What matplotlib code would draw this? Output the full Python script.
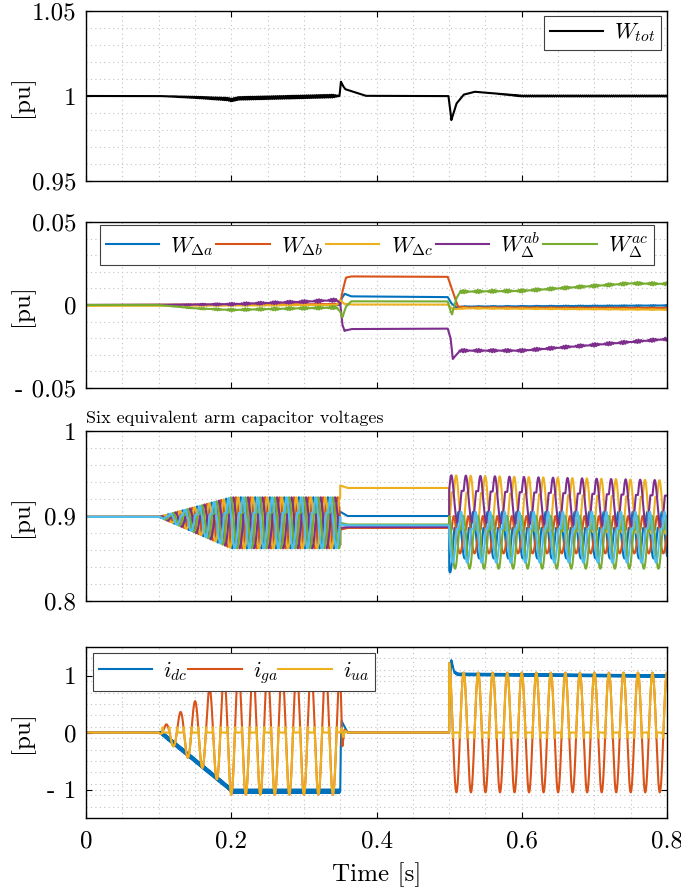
import numpy as np
import matplotlib.pyplot as plt

plt.rcParams['font.family'] = 'cmr10'
plt.rcParams['mathtext.fontset'] = 'cm'
plt.rcParams['axes.unicode_minus'] = False

# MATLAB default line colours
c_blue = '#0072BD'
c_orange = '#D95319'
c_yellow = '#EDB120'
c_purple = '#7E2F8E'
c_green = '#77AC30'
c_cyan = '#4DBEEE'

f_grid = 50.0  # Hz
dt = 2e-5
t = np.arange(0, 0.8 + dt, dt)

# ---------------- panel 1: total energy
wtot_t = [0, 0.10, 0.15, 0.195, 0.20, 0.21, 0.28, 0.345, 0.349, 0.351, 0.354, 0.357,
          0.385, 0.499, 0.5015, 0.503, 0.51, 0.52, 0.535, 0.55, 0.60, 0.80]
wtot_v = [1.0, 1.0, 0.9992, 0.9982, 0.9976, 0.9986, 0.9993, 1.0000, 1.0000, 1.0084, 1.0058,
          1.0040, 1.0001, 1.0, 0.992, 0.9858, 0.9955, 1.0008, 1.0025, 1.0020, 1.0000, 1.0000]
wtot_rip_t = [0, 0.10, 0.20, 0.34, 0.35, 0.55, 0.60, 0.80]
wtot_rip_a = [0, 0, 0.0008, 0.0008, 0, 0, 0.0003, 0.0003]

# ---------------- panel 2: energy differences
wda_t = [0, 0.35, 0.352, 0.356, 0.365, 0.498, 0.503, 0.51, 0.52, 0.80]
wda_v = [0, 0, 0.004, 0.0068, 0.0052, 0.0048, 0.001, -0.0015, -0.001, -0.0003]
wdb_t = [0, 0.35, 0.353, 0.358, 0.365, 0.498, 0.505, 0.512, 0.52, 0.80]
wdb_v = [0, 0.0005, 0.008, 0.0165, 0.0172, 0.0170, 0.008, -0.001, -0.0015, -0.0018]
wdc_t = [0, 0.10, 0.345, 0.35, 0.355, 0.365, 0.498, 0.503, 0.51, 0.52, 0.80]
wdc_v = [-0.0005, -0.0005, 0.0, 0.003, 0.0008, 0.0003, 0.0003, -0.002, -0.0025, -0.002, -0.0028]
wab_t = [0, 0.10, 0.20, 0.30, 0.345, 0.35, 0.353, 0.356, 0.365, 0.498, 0.502, 0.505,
         0.515, 0.60, 0.80]
wab_v = [0, 0, 0.0005, 0.002, 0.003, 0.001, -0.012, -0.0155, -0.0145, -0.0142, -0.02,
         -0.0325, -0.0275, -0.0275, -0.0205]
wac_t = [0, 0.10, 0.15, 0.20, 0.30, 0.345, 0.35, 0.353, 0.358, 0.365, 0.498, 0.502,
         0.504, 0.51, 0.515, 0.60, 0.75, 0.80]
wac_v = [0, 0, -0.002, -0.003, -0.002, -0.0015, -0.004, -0.0075, -0.001, 0.0022, 0.0022,
         -0.004, -0.0055, 0.004, 0.008, 0.0085, 0.013, 0.0127]
w2_rip_t = [0, 0.10, 0.20, 0.345, 0.36, 0.50, 0.515, 0.80]
w2_rip_a = [0, 0, 0.0008, 0.001, 0, 0, 0.001, 0.001]

# ---------------- panel 3: six arm capacitor voltages
cap_colors = [c_blue, c_orange, c_yellow, c_purple, c_green, c_cyan]
cap_phase = [0.65, 0.98, 0.82, 0.15, 0.32, 0.48]
cap_v0 = 0.899
capA_t = [0.10, 0.20, 0.35]
capA_plateau = [0.899, 0.904, 0.904]
capA_up = [0.0, 0.018, 0.018]
capA_down = [0.0, 0.042, 0.042]
capB_t = [0.35, 0.36, 0.50]
capB_start = [0.905, 0.884, 0.936, 0.886, 0.892, 0.890]
capB_end = [0.900, 0.886, 0.933, 0.887, 0.890, 0.889]
capC_plateau_start = [0.886, 0.884, 0.928, 0.930, 0.884, 0.885]
capC_plateau_end = [0.886, 0.884, 0.922, 0.924, 0.884, 0.885]
capC_up = [0.019, 0.016, 0.020, 0.018, 0.016, 0.020]
capC_down_first = [0.054, 0.028, 0.043, 0.037, 0.046, 0.040]
capC_down = [0.036, 0.028, 0.043, 0.037, 0.046, 0.040]

# ---------------- panel 4: currents
idc_t = [0, 0.10, 0.103, 0.202, 0.35, 0.3505, 0.352, 0.356, 0.36, 0.50, 0.5005, 0.503,
         0.507, 0.512, 0.80]
idc_v = [0, 0, 0, -1.03, -1.03, -0.4, 0.2, 0.1, 0, 0, 0.8, 1.27, 1.06, 1.02, 0.99]
idc_rip_t = [0, 0.10, 0.105, 0.35, 0.352, 0.50, 0.51, 0.80]
idc_rip_a = [0, 0, 0.03, 0.03, 0, 0, 0.015, 0.015]
iga_A_t = [0.10, 0.11, 0.12, 0.13, 0.14, 0.15, 0.16, 0.17, 0.18, 0.19, 0.20, 0.35]
iga_A_amp = [0, 0.14, 0.24, 0.36, 0.44, 0.55, 0.62, 0.77, 0.82, 0.98, 1.09, 1.09]
iga_off_t = [0.35, 0.3515, 0.353, 0.356, 0.36]
iga_off_v = [1.09, 0.4, -0.24, 0.05, 0]
iua_off_t = [0.35, 0.352, 0.354, 0.357, 0.36]
iua_off_v = [0, 0.08, -0.08, 0.03, 0]
iga_C_t = [0.50, 0.506, 0.80]
iga_C_amp = [1.22, 1.05, 1.05]
iua_post = 0.09


def arm_shape(u, up, down):
    # short flat part, then a rise and a deeper dip over one period
    s = np.zeros_like(u)
    m1 = (u >= 0.15) & (u < 0.45)
    s[m1] = up[m1] * np.sin(np.pi * (u[m1] - 0.15) / 0.3)
    m2 = u >= 0.45
    s[m2] = -down[m2] * np.sin(np.pi * (u[m2] - 0.45) / 0.55)
    return s


segA = (t >= 0.1) & (t < 0.35)
segB = (t >= 0.35) & (t < 0.5)
segC = t >= 0.5

# W_tot
w_tot = np.interp(t, wtot_t, wtot_v) + np.interp(t, wtot_rip_t, wtot_rip_a) * np.sin(2 * np.pi * 350 * t)

# energy differences
blob = np.sin(2 * np.pi * 300 * t) * (0.5 + 0.5 * np.cos(2 * np.pi * f_grid * t))
rip2 = np.interp(t, w2_rip_t, w2_rip_a) * blob
w_da = np.interp(t, wda_t, wda_v) + 0.3 * rip2
w_db = np.interp(t, wdb_t, wdb_v) + 0.3 * rip2
w_dc = np.interp(t, wdc_t, wdc_v) + 0.3 * rip2
w_ab = np.interp(t, wab_t, wab_v) + rip2
w_ac = np.interp(t, wac_t, wac_v) - rip2

# capacitor voltages
caps = []
for k in range(6):
    v = np.full_like(t, cap_v0)
    uA = ((t - 0.1) * f_grid + cap_phase[k]) % 1.0
    sA = arm_shape(uA, np.interp(t, capA_t, capA_up), np.interp(t, capA_t, capA_down))
    v[segA] = np.interp(t[segA], capA_t, capA_plateau) + sA[segA]
    v[segB] = np.interp(t[segB], capB_t, [capB_start[k], capB_end[k], capB_end[k]])
    uC = ((t - 0.5) * f_grid + cap_phase[k]) % 1.0
    upC = np.full_like(t, capC_up[k])
    downC = np.interp(t, [0.5, 0.515], [capC_down_first[k], capC_down[k]])
    sC = arm_shape(uC, upC, downC)
    v[segC] = np.interp(t[segC], [0.5, 0.8], [capC_plateau_start[k], capC_plateau_end[k]]) + sC[segC]
    caps.append(v)

# currents
i_dc = np.interp(t, idc_t, idc_v) + np.interp(t, idc_rip_t, idc_rip_a) * np.sin(2 * np.pi * 650 * t)

ampA = np.interp(t, iga_A_t, iga_A_amp)
ampC = np.interp(t, iga_C_t, iga_C_amp)
i_ga = np.zeros_like(t)
i_ga[segA] = -ampA[segA] * np.cos(2 * np.pi * f_grid * (t[segA] - 0.1))
off = (t >= 0.35) & (t < 0.36)
i_ga[off] = np.interp(t[off], iga_off_t, iga_off_v)
i_ga[segC] = ampC[segC] * np.cos(2 * np.pi * f_grid * (t[segC] - 0.5))

i_ua = np.zeros_like(t)
gA = i_ga[segA]
aA = ampA[segA]
i_ua[segA] = np.where(gA <= 0, gA, np.where(gA < 0.25 * aA, iua_post, 0.0))
i_ua[off] = np.interp(t[off], iua_off_t, iua_off_v)
gC = i_ga[segC]
aC = ampC[segC]
i_ua[segC] = np.where(gC >= 0, gC, np.where(gC > -0.25 * aC, -iua_post, 0.0))

# ---------------- figure
fig = plt.figure(figsize=(6.81, 8.88), dpi=100)
ax1 = fig.add_axes([0.1263, 0.7962, 0.8532, 0.1914])
ax2 = fig.add_axes([0.1263, 0.5631, 0.8532, 0.1869])
ax3 = fig.add_axes([0.1263, 0.3232, 0.8532, 0.1914])
ax4 = fig.add_axes([0.1263, 0.0788, 0.8532, 0.1926])

lw = 1.5
ax1.plot(t, w_tot, color='k', lw=lw, label=r'$W_{tot}$')
ax2.plot(t, w_da, color=c_blue, lw=lw, label=r'$W_{\Delta a}$')
ax2.plot(t, w_db, color=c_orange, lw=lw, label=r'$W_{\Delta b}$')
ax2.plot(t, w_dc, color=c_yellow, lw=lw, label=r'$W_{\Delta c}$')
ax2.plot(t, w_ab, color=c_purple, lw=lw, label=r'$W_{\Delta}^{ab}$')
ax2.plot(t, w_ac, color=c_green, lw=lw, label=r'$W_{\Delta}^{ac}$')
for v, c in zip(caps, cap_colors):
    ax3.plot(t, v, color=c, lw=lw)
ax4.plot(t, i_dc, color=c_blue, lw=lw, label=r'$i_{dc}$')
ax4.plot(t, i_ga, color=c_orange, lw=lw, label=r'$i_{ga}$')
ax4.plot(t, i_ua, color=c_yellow, lw=lw, label=r'$i_{ua}$')

yticks = [[0.95, 1.0, 1.05], [-0.05, 0, 0.05], [0.8, 0.9, 1.0], [-1, 0, 1]]
ylabels = [['0.95', '1', '1.05'], ['- 0.05', '0', '0.05'], ['0.8', '0.9', '1'], ['- 1', '0', '1']]
ylims = [(0.95, 1.05), (-0.05, 0.05), (0.8, 1.0), (-1.5, 1.5)]
yminor = [0.01, 0.01, 0.02, 0.2]

for ax, yt, yl, lim, ym in zip([ax1, ax2, ax3, ax4], yticks, ylabels, ylims, yminor):
    ax.set_xlim(0, 0.8)
    ax.set_ylim(*lim)
    ax.set_xticks([0, 0.2, 0.4, 0.6, 0.8])
    ax.set_xticks(np.arange(0, 0.8001, 0.05), minor=True)
    ax.set_yticks(yt)
    ax.set_yticklabels(yl)
    ax.set_yticks(np.arange(lim[0], lim[1] + 1e-9, ym), minor=True)
    ax.grid(which='both', color='#c2c2c2', linestyle=(0, (1, 3)), linewidth=0.8)
    ax.set_axisbelow(True)
    ax.tick_params(which='major', direction='in', top=True, right=True, length=4,
                   width=0.8, labelsize=18, pad=7)
    ax.tick_params(which='minor', length=0)
    ax.set_ylabel('[pu]', fontsize=18)
    ax.yaxis.set_label_coords(-0.09, 0.5)
    for sp in ax.spines.values():
        sp.set_linewidth(1.0)
    if ax is not ax4:
        ax.set_xticklabels([])

ax4.set_xticklabels(['0', '0.2', '0.4', '0.6', '0.8'])
ax4.tick_params(axis='x', pad=9)
ax4.set_xlabel('Time [s]', fontsize=18, labelpad=7)
ax3.set_title('Six equivalent arm capacitor voltages', loc='left', fontsize=13, pad=6)

leg_kw = dict(fancybox=False, framealpha=1, edgecolor='0.25', fontsize=16,
              handlelength=2.4, handletextpad=0.5, borderpad=0.25, borderaxespad=0)
lg1 = ax1.legend(loc='upper right', bbox_to_anchor=(0.99, 0.972), **leg_kw)
lg2 = ax2.legend(loc='upper left', bbox_to_anchor=(0.024, 0.982, 0.953, 0.0), ncol=5,
                 mode='expand', columnspacing=0.6, **leg_kw)
lg4 = ax4.legend(loc='upper left', bbox_to_anchor=(0.012, 0.965, 0.485, 0.0), ncol=3,
                 mode='expand', columnspacing=0.6, **leg_kw)
for lg in (lg1, lg2, lg4):
    lg.get_frame().set_linewidth(0.8)

fig.savefig('out.png', dpi=100)
